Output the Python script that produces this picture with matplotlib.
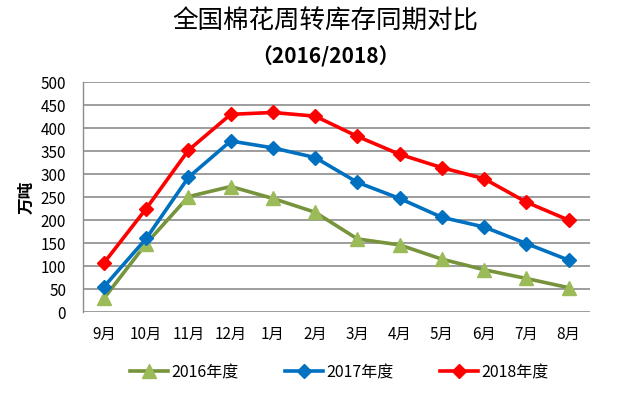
import matplotlib
matplotlib.use("Agg")
import matplotlib.pyplot as plt

plt.rcParams['font.family'] = ['Noto Sans CJK SC', 'DejaVu Sans']

months = ["9月", "10月", "11月", "12月", "1月", "2月", "3月", "4月", "5月", "6月", "7月", "8月"]
s2016 = [30, 149, 251, 273, 247, 217, 159, 146, 115, 92, 73, 53]
s2017 = [55, 160, 293, 372, 357, 336, 282, 247, 206, 185, 149, 113]
s2018 = [107, 225, 352, 430, 434, 426, 382, 343, 314, 290, 239, 200]
yticks = [0, 50, 100, 150, 200, 250, 300, 350, 400, 450, 500]

fig = plt.figure(figsize=(6.28, 3.93), dpi=100)
ax = fig.add_axes([0.132, 0.206, 0.807, 0.585])

x = list(range(len(months)))
ax.plot(x, s2016, color='#77933C', lw=2.6, marker='^', ms=9.5, mfc='#9BBB59', mec='#9BBB59', label='2016年度', zorder=3)
ax.plot(x, s2017, color='#0070C0', lw=2.6, marker='D', ms=7, mfc='#0070C0', mec='#0070C0', label='2017年度', zorder=4)
ax.plot(x, s2018, color='#FF0000', lw=2.6, marker='D', ms=7, mfc='#FF0000', mec='#FF0000', label='2018年度', zorder=5)

ax.set_xlim(-0.5, len(months) - 0.5)
ax.set_ylim(0, 500)
ax.set_yticks(yticks)
ax.set_xticks(x)
ax.set_xticklabels(months, fontsize=11)
ax.tick_params(axis='y', labelsize=11, length=0, pad=12)
ax.tick_params(axis='x', length=0, pad=10)
ax.grid(axis='y', color='#8C8C8C', lw=1.2)
ax.set_axisbelow(True)
for s in ['top', 'right', 'bottom']:
    ax.spines[s].set_visible(False)
ax.spines['left'].set_color('#8C8C8C')
ax.spines['left'].set_linewidth(1.0)

ax.set_ylabel('万吨', fontsize=12, fontweight='bold', labelpad=4)

fig.text(0.518, 0.944, '全国棉花周转库存同期对比', ha='center', va='center', fontsize=18.4)
fig.text(0.518, 0.855, '（2016/2018）', ha='center', va='center', fontsize=15, fontweight='bold')

fig.legend(loc='center', bbox_to_anchor=(0.54, 0.052), ncol=3, frameon=False, fontsize=11.5,
           handlelength=2.4, columnspacing=2.9, handletextpad=0.2)

fig.savefig('out.png', dpi=100)
